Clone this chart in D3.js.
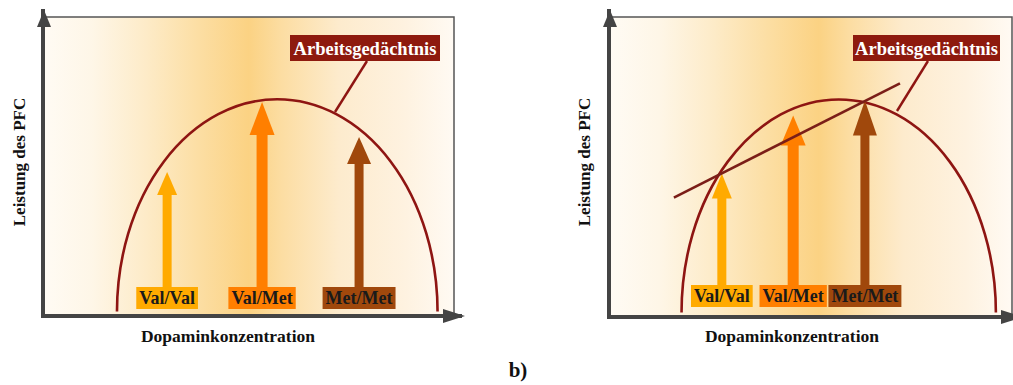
<!DOCTYPE html>
<html>
<head>
<meta charset="utf-8">
<script src="https://cdn.jsdelivr.net/npm/d3@7"></script>
<style>
  html, body { margin: 0; padding: 0; background: #ffffff; }
  svg { display: block; }
  text { font-family: "Liberation Serif", "Times New Roman", serif; font-weight: bold; }
</style>
</head>
<body>
<svg id="chart" width="1013" height="385"></svg>
<script>
// ---------------- data ----------------
const genotypes = ["Val/Val", "Val/Met", "Met/Met"];
const genotypeColors = ["#FFAA00", "#FF7F00", "#A0480C"];

// panel a: arrow position (x, 0-100) and height (performance, 0-100)
const panelAArrowX = [30.2, 53.3, 76.9];
const panelAArrowY = [48.2, 71.6, 59.9];

// panel b
const panelBArrowX = [28.0, 45.7, 63.5];
const panelBArrowY = [47.8, 67.2, 72.2];

// inverted-U curve (Arbeitsgedächtnis): start/end on x, base and peak level
const curveXExtent = [18, 96];
const curveYLevels = [1.5, 72.5];

// panel b straight line
const lineBX = [16.1, 72.2];
const lineBY = [39.8, 77.9];

const curveLabel = "Arbeitsgedächtnis";
const xTitle = "Dopaminkonzentration";
const yTitle = "Leistung des PFC";
const panelTag = "b)";

// ---------------- drawing ----------------
const svg = d3.select("#chart");
const defs = svg.append("defs");

const gradStops = [
  [0, "#FFFBF4"], [0.12, "#FEF6E7"], [0.25, "#FDEBC8"], [0.38, "#FCDEA3"],
  [0.5, "#FBD283"], [0.58, "#FCDDA2"], [0.72, "#FDEBCD"], [0.88, "#FEF2E0"], [1, "#FFFAF3"]
];
function makeGrad(id, shift) {
  const g = defs.append("linearGradient").attr("id", id)
    .attr("x1", "0%").attr("x2", "100%").attr("y1", "0%").attr("y2", "0%");
  gradStops.forEach(([o, c]) => {
    let off = o;
    if (o > 0 && o < 1) off = Math.min(0.99, o + shift * (1 - Math.abs(o - 0.5) * 2));
    g.append("stop").attr("offset", off).attr("stop-color", c);
  });
}
makeGrad("bgA", 0);
makeGrad("bgB", 0.02);

const axisColor = "#444444";
const curveColor = "#8E1512";
const labelBoxColor = "#8E1A0E";

function drawPanel(cfg) {
  const x = d3.scaleLinear().domain([0, 100]).range([cfg.left, cfg.right]);
  const y = d3.scaleLinear().domain([0, 100]).range([cfg.bottom, cfg.top]);
  const g = svg.append("g");

  // background
  g.append("rect")
    .attr("x", x(0)).attr("y", y(100))
    .attr("width", x(100) - x(0)).attr("height", y(0) - y(100))
    .attr("fill", `url(#${cfg.grad})`);
  // frame top & right
  g.append("path")
    .attr("d", `M${x(0)},${y(100)}H${x(100)}V${y(0)}`)
    .attr("fill", "none").attr("stroke", "#555").attr("stroke-width", 1.5);

  // curve (half ellipse)
  const cx0 = x(curveXExtent[0]), cx1 = x(curveXExtent[1]);
  const cyBase = y(curveYLevels[0]), cyPeak = y(curveYLevels[1]);
  const rx = (cx1 - cx0) / 2, ry = cyBase - cyPeak;
  g.append("path")
    .attr("d", `M${cx0},${cyBase}A${rx},${ry} 0 0 1 ${cx1},${cyBase}`)
    .attr("fill", "none").attr("stroke", curveColor).attr("stroke-width", 2.6);

  // arrows
  const boxTop = cfg.boxTop, boxH = 22;
  const headW = [20, 25, 24], shaftW = [9, 11, 9];
  cfg.arrowX.forEach((ax, i) => {
    const px = x(ax), tip = y(cfg.arrowY[i]);
    const hl = cfg.headLen[i];
    g.append("rect")
      .attr("x", px - shaftW[i] / 2).attr("y", tip + hl - 1)
      .attr("width", shaftW[i]).attr("height", boxTop - (tip + hl - 1))
      .attr("fill", genotypeColors[i]);
    g.append("path")
      .attr("d", `M${px},${tip}L${px + headW[i] / 2},${tip + hl}L${px - headW[i] / 2},${tip + hl}Z`)
      .attr("fill", genotypeColors[i]);
  });

  // straight line (panel b)
  if (cfg.lineX) {
    g.append("line")
      .attr("x1", x(cfg.lineX[0])).attr("y1", y(cfg.lineY[0]))
      .attr("x2", x(cfg.lineX[1])).attr("y2", y(cfg.lineY[1]))
      .attr("stroke", "#7B1E18").attr("stroke-width", 2.6);
  }

  // genotype labels
  genotypes.forEach((name, i) => {
    const px = x(cfg.arrowX[i]);
    const t = g.append("text")
      .attr("x", px).attr("y", boxTop + 16.5)
      .attr("text-anchor", "middle")
      .attr("font-size", 18)
      .attr("fill", "#1a1a1a")
      .text(name);
    const w = t.node().getComputedTextLength() + 6;
    g.insert("rect", "text")
      .attr("x", px - w / 2).attr("y", boxTop)
      .attr("width", w).attr("height", boxH)
      .attr("fill", genotypeColors[i]);
  });

  // leader line + label box
  g.append("line")
    .attr("x1", cfg.leader[0]).attr("y1", cfg.leader[1])
    .attr("x2", cfg.leader[2]).attr("y2", cfg.leader[3])
    .attr("stroke", curveColor).attr("stroke-width", 2.4);
  g.append("rect")
    .attr("x", cfg.labelBox[0]).attr("y", 35)
    .attr("width", cfg.labelBox[1] - cfg.labelBox[0]).attr("height", 26)
    .attr("fill", labelBoxColor);
  g.append("text")
    .attr("x", (cfg.labelBox[0] + cfg.labelBox[1]) / 2).attr("y", 54.5)
    .attr("text-anchor", "middle").attr("font-size", 18.5)
    .attr("fill", "#ffffff")
    .text(curveLabel);

  // axes (no ticks), thick, with arrow heads
  const xAxis = d3.axisBottom(x).tickValues([]).tickSizeOuter(0);
  const yAxis = d3.axisLeft(y).tickValues([]).tickSizeOuter(0);
  const gx = g.append("g").attr("transform", `translate(0,${y(0)})`).call(xAxis);
  const gy = g.append("g").attr("transform", `translate(${x(0)},0)`).call(yAxis);
  [gx, gy].forEach(a => a.select(".domain").attr("stroke", axisColor).attr("stroke-width", 4));
  gx.select(".domain").attr("d", `M${x(0) - 2},0H${x(100) + 8}`);
  gy.select(".domain").attr("d", `M0,${y(0) + 2}V${y(100) - 8}`);
  g.append("path")
    .attr("d", `M${x(100) + 11},${y(0)}L${x(100) - 11},${y(0) - 7}L${x(100) - 11},${y(0) + 7}Z`)
    .attr("fill", axisColor);
  g.append("path")
    .attr("d", `M${x(0) + 1},${y(100) - 7}L${x(0) + 8},${y(100) + 10}L${x(0) - 6},${y(100) + 10}Z`)
    .attr("fill", axisColor);

  // titles
  g.append("text")
    .attr("x", cfg.xTitleX).attr("y", 342)
    .attr("text-anchor", "middle").attr("font-size", 17.5).attr("fill", "#111")
    .text(xTitle);
  g.append("text")
    .attr("transform", `translate(${cfg.yTitleX},162) rotate(-90)`)
    .attr("text-anchor", "middle").attr("font-size", 17).attr("fill", "#111")
    .text(yTitle);
}

drawPanel({
  left: 43, right: 454, top: 17, bottom: 316, grad: "bgA",
  arrowX: panelAArrowX, arrowY: panelAArrowY, headLen: [23, 33, 27],
  boxTop: 287, leader: [367, 61, 335, 112], labelBox: [290, 440],
  xTitleX: 228, yTitleX: 25
});
drawPanel({
  left: 609, right: 1012, top: 17, bottom: 317, grad: "bgB",
  arrowX: panelBArrowX, arrowY: panelBArrowY, headLen: [25, 30, 35],
  boxTop: 285, leader: [928, 61, 897, 111], labelBox: [853, 1000],
  lineX: lineBX, lineY: lineBY,
  xTitleX: 792, yTitleX: 590
});

svg.append("text")
  .attr("x", 518).attr("y", 377)
  .attr("text-anchor", "middle").attr("font-size", 21).attr("fill", "#111")
  .text(panelTag);
</script>
</body>
</html>
